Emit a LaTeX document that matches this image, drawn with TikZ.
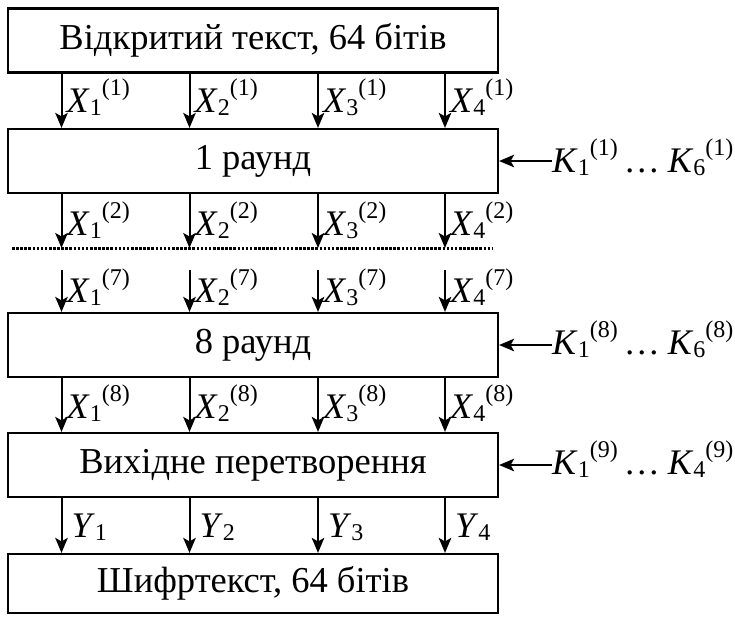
\documentclass[tikz,border=0pt]{standalone}
\usepackage{fontspec}
\setmainfont{Liberation Serif}
\usetikzlibrary{arrows.meta}
\newcommand{\lbl}[3]{\textit{#1}\raisebox{-3pt}{\fontsize{24}{24}\selectfont #2}\raisebox{17pt}{\fontsize{24}{24}\selectfont (#3)}}
\newcommand{\ylbl}[2]{\textit{#1}\raisebox{-3pt}{\fontsize{24}{24}\selectfont #2}}
\begin{document}
\begin{tikzpicture}[x=1pt,y=-1pt,
  box/.style={draw, line width=2.2pt, minimum width=490pt, inner sep=0pt, font=\fontsize{36.5}{36.5}\selectfont},
  lab/.style={inner sep=0pt, anchor=base west, font=\fontsize{36}{36}\selectfont},
  arr/.style={line width=2pt, -{Stealth[length=15pt,width=12.5pt,inset=3.5pt]}}]
\useasboundingbox (0,0) rectangle (735,616);
\node[box, minimum height=64pt] (b1) at (253,40.5) {Відкритий текст, 64 бітів};
\node[box, minimum height=64pt] (b2) at (253,161) {1 раунд};
\node[box, minimum height=64pt] (b3) at (253,345) {8 раунд};
\node[box, minimum height=64pt] (b4) at (253,465) {Вихідне перетворення};
\node[box, minimum height=59pt] (b5) at (253,583.5) {Шифртекст, 64 бітів};
\coordinate (d1) at (12,248);
\coordinate (d2) at (493,248);
\coordinate (e) at (0,270);
\draw[line width=3pt, dash pattern=on 2.6pt off 1.5pt] (d1) -- (d2);
\foreach \i/\x in {1/61.5,2/189.5,3/318,4/445}{
  \coordinate (c\i) at (\x,0);
  \draw[arr] (b1.south -| c\i) -- (b2.north -| c\i);
  \draw[arr] (b2.south -| c\i) -- (c\i |- d1);
  \draw[arr] (c\i |- e) -- (b3.north -| c\i);
  \draw[arr] (b3.south -| c\i) -- (b4.north -| c\i);
  \draw[arr] (b4.south -| c\i) -- (b5.north -| c\i);
  \node[lab] (la\i) at (\x+5,112) {\lbl{X}{\i}{1}};
  \node[lab] (lb\i) at (\x+5,235) {\lbl{X}{\i}{2}};
  \node[lab] (lc\i) at (\x+5,302) {\lbl{X}{\i}{7}};
  \node[lab] (ld\i) at (\x+5,418) {\lbl{X}{\i}{8}};
  \node[lab] (ly\i) at (\x+10,537) {\ylbl{Y}{\i}};
}
\node[lab] (k1) at (552,172) {\lbl{K}{1}{1}\hspace{6pt}…\hspace{8pt}\lbl{K}{6}{1}};
\node[lab] (k2) at (552,354) {\lbl{K}{1}{8}\hspace{6pt}…\hspace{8pt}\lbl{K}{6}{8}};
\node[lab] (k3) at (552,474) {\lbl{K}{1}{9}\hspace{6pt}…\hspace{8pt}\lbl{K}{4}{9}};
\draw[arr] (b2.east -| k1.west) -- (b2.east);
\draw[arr] (b3.east -| k2.west) -- (b3.east);
\draw[arr] (b4.east -| k3.west) -- (b4.east);
\end{tikzpicture}
\end{document}
